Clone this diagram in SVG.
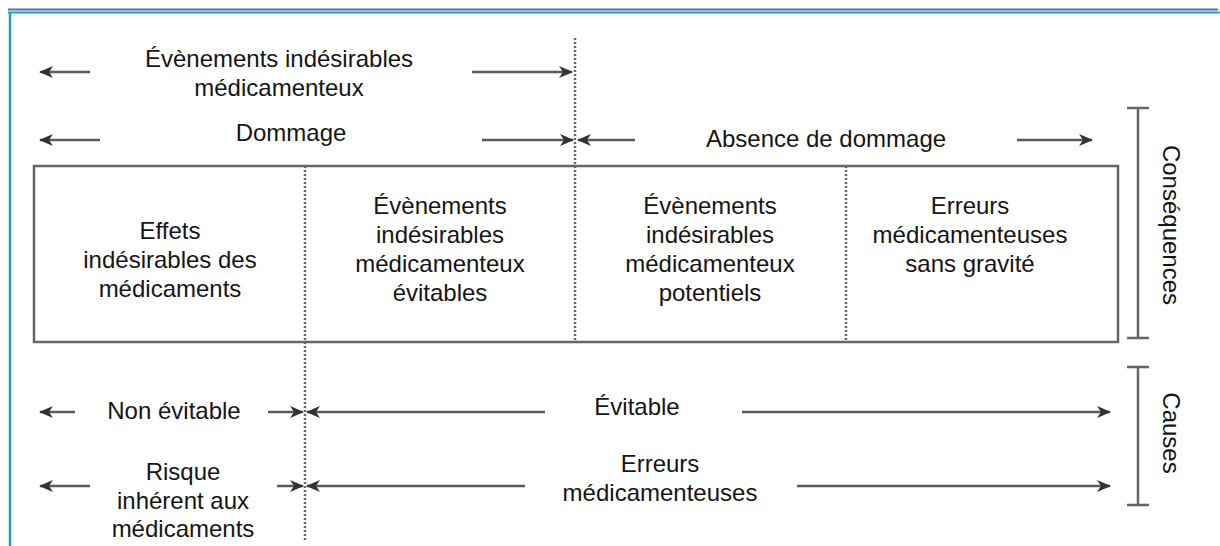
<svg xmlns="http://www.w3.org/2000/svg" width="1220" height="546" viewBox="0 0 1220 546">
<defs>
<style>
text{font-family:"Liberation Sans",Arial,sans-serif;font-size:24px;fill:#151515;text-anchor:middle}
.ar{stroke:#5a5a5a;stroke-width:2.5;fill:none}
.dot{stroke:#666;stroke-width:2.5;stroke-dasharray:2 2;fill:none}
.br{stroke:#666;stroke-width:2.5;fill:none}
</style>
<marker id="ah" viewBox="0 0 14 12" refX="13" refY="6" markerWidth="14" markerHeight="12" markerUnits="userSpaceOnUse" orient="auto">
<path d="M0,0 L14,6 L0,12 L4,6 Z" fill="#333"/>
</marker>
</defs>
<rect width="1220" height="546" fill="#fff"/>
<g id="frame">
<line x1="8" y1="9.5" x2="1218" y2="9.5" stroke="#4472c4" stroke-width="2"/>
<line x1="8" y1="12.5" x2="1220" y2="12.5" stroke="#1aa3a3" stroke-width="2"/>
<line x1="10" y1="12" x2="10" y2="546" stroke="#1aa3a3" stroke-width="2.5"/>
</g>
<g id="box">
<rect x="34" y="166" width="1084" height="176" fill="none" stroke="#666" stroke-width="2.5"/>
</g>
<g id="dividers">
<line class="dot" x1="305" y1="166" x2="305" y2="540"/>
<line class="dot" x1="575" y1="38" x2="575" y2="342"/>
<line class="dot" x1="846" y1="166" x2="846" y2="342"/>
</g>
<g id="cell1"><text x="170" y="239">Effets</text><text x="170" y="268">indésirables des</text><text x="170" y="297">médicaments</text></g>
<g id="cell2"><text x="440" y="214">Évènements</text><text x="440" y="243">indésirables</text><text x="440" y="272">médicamenteux</text><text x="440" y="301">évitables</text></g>
<g id="cell3"><text x="710" y="214">Évènements</text><text x="710" y="243">indésirables</text><text x="710" y="272">médicamenteux</text><text x="710" y="301">potentiels</text></g>
<g id="cell4"><text x="970" y="214">Erreurs</text><text x="970" y="243">médicamenteuses</text><text x="970" y="272">sans gravité</text></g>
<g id="labels">
<text x="279" y="67">Évènements indésirables</text>
<text x="279" y="96">médicamenteux</text>
<text x="291" y="141">Dommage</text>
<text x="826" y="147">Absence de dommage</text>
<text x="174" y="419">Non évitable</text>
<text x="637" y="415">Évitable</text>
<text x="183" y="480">Risque</text>
<text x="183" y="509">inhérent aux</text>
<text x="183" y="537">médicaments</text>
<text x="660" y="472">Erreurs</text>
<text x="660" y="501">médicamenteuses</text>
<text transform="translate(1163,225) rotate(90)">Conséquences</text>
<text transform="translate(1163,433) rotate(90)">Causes</text>
</g>
<g id="connectors">
<line class="ar" x1="90" y1="72" x2="40" y2="72" marker-end="url(#ah)"/>
<line class="ar" x1="472" y1="72" x2="572" y2="72" marker-end="url(#ah)"/>
<line class="ar" x1="100" y1="140" x2="40" y2="140" marker-end="url(#ah)"/>
<line class="ar" x1="482" y1="140" x2="573" y2="140" marker-end="url(#ah)"/>
<line class="ar" x1="635" y1="140" x2="578" y2="140" marker-end="url(#ah)"/>
<line class="ar" x1="1017" y1="140" x2="1092" y2="140" marker-end="url(#ah)"/>
<line class="ar" x1="75" y1="412" x2="40" y2="412" marker-end="url(#ah)"/>
<line class="ar" x1="268" y1="412" x2="303" y2="412" marker-end="url(#ah)"/>
<line class="ar" x1="545" y1="412" x2="307" y2="412" marker-end="url(#ah)"/>
<line class="ar" x1="742" y1="412" x2="1110" y2="412" marker-end="url(#ah)"/>
<line class="ar" x1="90" y1="486" x2="40" y2="486" marker-end="url(#ah)"/>
<line class="ar" x1="277" y1="486" x2="303" y2="486" marker-end="url(#ah)"/>
<line class="ar" x1="525" y1="486" x2="307" y2="486" marker-end="url(#ah)"/>
<line class="ar" x1="797" y1="486" x2="1110" y2="486" marker-end="url(#ah)"/>
</g>
<g id="brackets">
<path class="br" d="M1127,108 H1149 M1138,108 V338 M1127,338 H1149"/>
<path class="br" d="M1127,367 H1149 M1138,367 V505 M1127,505 H1149"/>
</g>
</svg>
